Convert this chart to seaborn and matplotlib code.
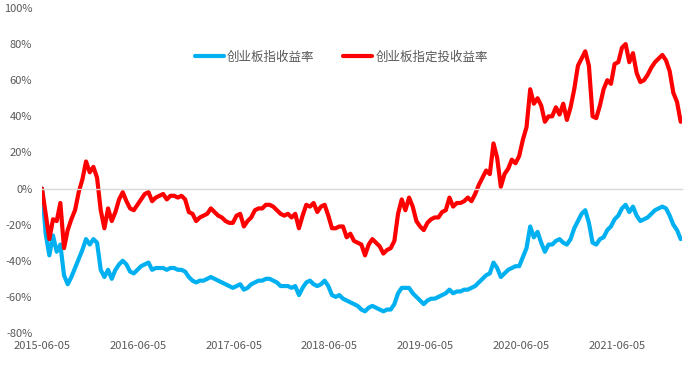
import matplotlib
matplotlib.use("Agg")
import matplotlib.pyplot as plt
import matplotlib.dates as mdates
from matplotlib.ticker import FuncFormatter
import seaborn as sns
import pandas as pd

# ---------------- data ----------------
series_names = ["创业板指收益率", "创业板指定投收益率"]
start_date = "2015-06-05"
step = "14D"

# 创业板指收益率 (%), sampled every 14 days
cyb_index = [
    0, -25, -37, -26, -35, -31, -48, -53, -49, -44,
    -39, -34, -28, -31, -28, -30, -45, -49, -45, -50,
    -45, -42, -40, -42, -46, -47, -45, -43, -42, -41,
    -45, -44, -44, -44, -45, -44, -44, -45, -45, -46,
    -49, -51, -52, -51, -51, -50, -49, -50, -51, -52,
    -53, -54, -55, -54, -53, -56, -55, -53, -52, -51,
    -51, -50, -50, -51, -52, -54, -54, -54, -55, -54,
    -59, -55, -52, -51, -53, -54, -53, -51, -54, -59,
    -60, -59, -61, -62, -63, -64, -65, -67, -68, -66,
    -65, -66, -67, -68, -67, -67, -64, -58, -55, -55,
    -55, -58, -60, -62, -64, -62, -61, -61, -60, -59,
    -58, -56, -58, -57, -57, -56, -56, -55, -54, -52,
    -50, -48, -47, -41, -44, -49, -47, -45, -44, -43,
    -43, -38, -33, -21, -27, -24, -30, -35, -31, -31,
    -29, -28, -30, -31, -28, -22, -18, -14, -12, -19,
    -30, -31, -28, -27, -23, -21, -17, -15, -11, -9,
    -13, -10, -15, -18, -17, -16, -14, -12, -11, -10,
    -11, -15, -20, -23, -28,
]

# 创业板指定投收益率 (%), sampled every 14 days
cyb_dca = [
    0, -14, -28, -17, -18, -8, -33, -23, -17, -12,
    -2, 5, 15, 9, 12, 6, -12, -22, -11, -18,
    -13, -6, -2, -7, -11, -12, -9, -6, -3, -2,
    -7, -5, -4, -3, -6, -4, -4, -5, -4, -6,
    -13, -14, -18, -16, -15, -14, -11, -13, -15, -16,
    -18, -19, -19, -15, -14, -21, -18, -16, -12, -11,
    -11, -9, -9, -10, -12, -14, -15, -14, -16, -14,
    -22, -15, -9, -10, -8, -13, -10, -9, -15, -22,
    -22, -21, -21, -27, -25, -29, -30, -31, -37, -31,
    -28, -30, -32, -36, -34, -33, -29, -14, -6, -12,
    -5, -10, -18, -21, -23, -19, -17, -16, -16, -13,
    -12, -5, -10, -8, -8, -7, -5, -7, -3, 2,
    6, 10, 8, 25, 17, 1, 8, 11, 16, 14,
    18, 27, 34, 55, 47, 50, 46, 37, 40, 40,
    45, 41, 47, 38, 45, 55, 68, 72, 76, 68,
    40, 39, 46, 55, 60, 58, 69, 70, 78, 80,
    70, 75, 64, 59, 60, 63, 67, 70, 72, 74,
    71, 65, 53, 48, 37,
]

tick_dates = ["2015-06-05", "2016-06-05", "2017-06-05", "2018-06-05",
              "2019-06-05", "2020-06-05", "2021-06-05"]
y_ticks = [-80, -60, -40, -20, 0, 20, 40, 60, 80, 100]
colors = ["#00B0F0", "#FF0000"]

# ---------------- frame ----------------
dates = pd.date_range(start_date, periods=len(cyb_index), freq=step)
df = pd.DataFrame({"date": dates, series_names[0]: cyb_index, series_names[1]: cyb_dca})
long_df = df.melt(id_vars="date", var_name="series", value_name="value")

# ---------------- style ----------------
sns.set_theme(style="white")
plt.rcParams["font.family"] = ["Noto Sans CJK SC", "DejaVu Sans"]
plt.rcParams["axes.unicode_minus"] = False

fig = plt.figure(figsize=(6.9, 3.75), dpi=100)
ax = fig.add_axes([42 / 690, 1 - 333 / 375, (682 - 42) / 690, (333 - 8) / 375])

sns.lineplot(data=long_df, x="date", y="value", hue="series",
             hue_order=series_names, palette=colors, linewidth=3.0, ax=ax)

ax.set_ylim(-80, 100)
ax.set_xlim(dates[0], dates[-1] + pd.Timedelta(days=5))
ax.set_yticks(y_ticks)
ax.yaxis.set_major_formatter(FuncFormatter(lambda v, p: f"{v:.0f}%"))
ax.tick_params(axis="y", length=0, pad=7, labelsize=8, labelcolor="#595959")
ax.set_xlabel("")
ax.set_ylabel("")

for s in ["left", "right", "top"]:
    ax.spines[s].set_visible(False)
ax.spines["bottom"].set_position(("data", 0))
ax.spines["bottom"].set_color("#D9D9D9")
ax.spines["bottom"].set_linewidth(1.0)

tick_pos = mdates.date2num(pd.to_datetime(tick_dates))
ax.set_xticks(tick_pos)
ax.tick_params(axis="x", length=3, width=0.8, color="#D9D9D9", labelbottom=False)

sec = ax.secondary_xaxis("bottom")
sec.set_xticks(tick_pos)
sec.xaxis.set_major_formatter(mdates.DateFormatter("%Y-%m-%d"))
sec.tick_params(axis="x", length=0, pad=6, labelsize=8, labelcolor="#595959")
sec.spines["bottom"].set_visible(False)

handles, labels = ax.get_legend_handles_labels()
ax.legend(handles=handles, labels=labels, ncol=2, frameon=False,
          loc="center", bbox_to_anchor=(0.468, 0.849),
          fontsize=9, labelcolor="#595959",
          handlelength=2.3, handletextpad=0.25, columnspacing=2.3)

fig.savefig("out.png", dpi=100)
